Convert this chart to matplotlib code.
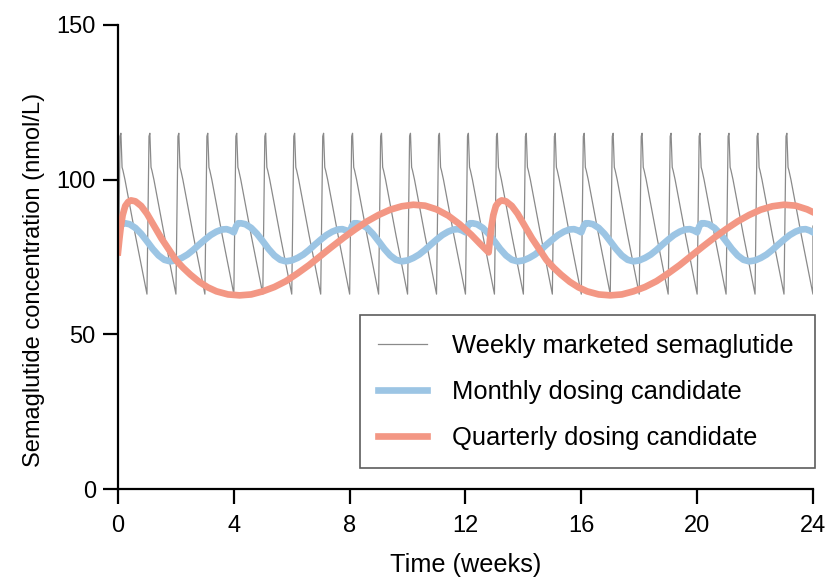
import numpy as np
import matplotlib.pyplot as plt

# weekly marketed semaglutide (one dose each week)
weekly_t = [
    0.00, 0.07, 0.10, 0.14, 0.17, 0.24, 0.60,
    1.00, 1.07, 1.10, 1.14, 1.17, 1.24, 1.60,
    2.00, 2.07, 2.10, 2.14, 2.17, 2.24, 2.60,
    3.00, 3.07, 3.10, 3.14, 3.17, 3.24, 3.60,
    4.00, 4.07, 4.10, 4.14, 4.17, 4.24, 4.60,
    5.00, 5.07, 5.10, 5.14, 5.17, 5.24, 5.60,
    6.00, 6.07, 6.10, 6.14, 6.17, 6.24, 6.60,
    7.00, 7.07, 7.10, 7.14, 7.17, 7.24, 7.60,
    8.00, 8.07, 8.10, 8.14, 8.17, 8.24, 8.60,
    9.00, 9.07, 9.10, 9.14, 9.17, 9.24, 9.60,
    10.00, 10.07, 10.10, 10.14, 10.17, 10.24, 10.60,
    11.00, 11.07, 11.10, 11.14, 11.17, 11.24, 11.60,
    12.00, 12.07, 12.10, 12.14, 12.17, 12.24, 12.60,
    13.00, 13.07, 13.10, 13.14, 13.17, 13.24, 13.60,
    14.00, 14.07, 14.10, 14.14, 14.17, 14.24, 14.60,
    15.00, 15.07, 15.10, 15.14, 15.17, 15.24, 15.60,
    16.00, 16.07, 16.10, 16.14, 16.17, 16.24, 16.60,
    17.00, 17.07, 17.10, 17.14, 17.17, 17.24, 17.60,
    18.00, 18.07, 18.10, 18.14, 18.17, 18.24, 18.60,
    19.00, 19.07, 19.10, 19.14, 19.17, 19.24, 19.60,
    20.00, 20.07, 20.10, 20.14, 20.17, 20.24, 20.60,
    21.00, 21.07, 21.10, 21.14, 21.17, 21.24, 21.60,
    22.00, 22.07, 22.10, 22.14, 22.17, 22.24, 22.60,
    23.00, 23.07, 23.10, 23.14, 23.17, 23.24, 23.60,
    24.00, 24.00,
]
weekly_c = [
    60, 114, 115, 104, 103, 100, 82,
    63, 114, 115, 104, 103, 100, 82,
    63, 114, 115, 104, 103, 100, 82,
    63, 114, 115, 104, 103, 100, 82,
    63, 114, 115, 104, 103, 100, 82,
    63, 114, 115, 104, 103, 100, 82,
    63, 114, 115, 104, 103, 100, 82,
    63, 114, 115, 104, 103, 100, 82,
    63, 114, 115, 104, 103, 100, 82,
    63, 114, 115, 104, 103, 100, 82,
    63, 114, 115, 104, 103, 100, 82,
    63, 114, 115, 104, 103, 100, 82,
    63, 114, 115, 104, 103, 100, 82,
    63, 114, 115, 104, 103, 100, 82,
    63, 114, 115, 104, 103, 100, 82,
    63, 114, 115, 104, 103, 100, 82,
    63, 114, 115, 104, 103, 100, 82,
    63, 114, 115, 104, 103, 100, 82,
    63, 114, 115, 104, 103, 100, 82,
    63, 114, 115, 104, 103, 100, 82,
    63, 114, 115, 104, 103, 100, 82,
    63, 114, 115, 104, 103, 100, 82,
    63, 114, 115, 104, 103, 100, 82,
    63, 114, 115, 104, 103, 100, 82,
    63, 85,
]

# monthly dosing candidate
monthly_t = [
    0.00, 0.08, 0.15, 0.25, 0.40, 0.60, 0.80, 1.00, 1.20, 1.40, 1.60, 1.80,
    2.00, 2.20, 2.40, 2.60, 2.80, 3.00, 3.20, 3.40, 3.60, 3.75, 3.88,
    4.00, 4.08, 4.15, 4.25, 4.40, 4.60, 4.80, 5.00, 5.20, 5.40, 5.60, 5.80,
    6.00, 6.20, 6.40, 6.60, 6.80, 7.00, 7.20, 7.40, 7.60, 7.75, 7.88,
    8.00, 8.08, 8.15, 8.25, 8.40, 8.60, 8.80, 9.00, 9.20, 9.40, 9.60, 9.80,
    10.00, 10.20, 10.40, 10.60, 10.80, 11.00, 11.20, 11.40, 11.60, 11.75, 11.88,
    12.00, 12.08, 12.15, 12.25, 12.40, 12.60, 12.80, 13.00, 13.20, 13.40, 13.60, 13.80,
    14.00, 14.20, 14.40, 14.60, 14.80, 15.00, 15.20, 15.40, 15.60, 15.75, 15.88,
    16.00, 16.08, 16.15, 16.25, 16.40, 16.60, 16.80, 17.00, 17.20, 17.40, 17.60, 17.80,
    18.00, 18.20, 18.40, 18.60, 18.80, 19.00, 19.20, 19.40, 19.60, 19.75, 19.88,
    20.00, 20.08, 20.15, 20.25, 20.40, 20.60, 20.80, 21.00, 21.20, 21.40, 21.60, 21.80,
    22.00, 22.20, 22.40, 22.60, 22.80, 23.00, 23.20, 23.40, 23.60, 23.75, 23.88,
    24.00,
]
monthly_c = [
    82.7, 84.8, 85.8, 85.9, 85.6, 84.4, 82.5, 80.1, 77.6, 75.5, 74.1, 73.6,
    73.9, 74.7, 75.8, 77.3, 79.0, 80.6, 82.1, 83.2, 83.9, 84.0, 83.6,
    83.0, 85.0, 85.9, 85.9, 85.6, 84.4, 82.5, 80.1, 77.6, 75.5, 74.1, 73.6,
    73.9, 74.7, 75.8, 77.3, 79.0, 80.6, 82.1, 83.2, 83.9, 84.0, 83.6,
    83.0, 85.0, 85.9, 85.9, 85.6, 84.4, 82.5, 80.1, 77.6, 75.5, 74.1, 73.6,
    73.9, 74.7, 75.8, 77.3, 79.0, 80.6, 82.1, 83.2, 83.9, 84.0, 83.6,
    83.0, 85.0, 85.9, 85.9, 85.6, 84.4, 82.5, 80.1, 77.6, 75.5, 74.1, 73.6,
    73.9, 74.7, 75.8, 77.3, 79.0, 80.6, 82.1, 83.2, 83.9, 84.0, 83.6,
    83.0, 85.0, 85.9, 85.9, 85.6, 84.4, 82.5, 80.1, 77.6, 75.5, 74.1, 73.6,
    73.9, 74.7, 75.8, 77.3, 79.0, 80.6, 82.1, 83.2, 83.9, 84.0, 83.6,
    83.0, 85.0, 85.9, 85.9, 85.6, 84.4, 82.5, 80.1, 77.6, 75.5, 74.1, 73.6,
    73.9, 74.7, 75.8, 77.3, 79.0, 80.6, 82.1, 83.2, 83.9, 84.0, 83.6,
    83.0,
]

# quarterly dosing candidate
quarterly_t = [
    0.00, 0.05, 0.10, 0.16, 0.25, 0.35, 0.45, 0.60, 0.80, 1.00, 1.25, 1.50, 1.75,
    2.00, 2.25, 2.50, 2.80, 3.10, 3.40, 3.80, 4.20, 4.60, 5.00, 5.40, 5.80, 6.20,
    6.60, 7.00, 7.40, 7.80, 8.20, 8.60, 9.00, 9.40, 9.80, 10.20, 10.60, 11.00,
    11.40, 11.80, 12.20, 12.50, 12.80,
    12.85, 12.90, 12.96, 13.05, 13.15, 13.25, 13.40, 13.60, 13.80, 14.05, 14.30, 14.55,
    14.80, 15.05, 15.30, 15.60, 15.90, 16.20, 16.60, 17.00, 17.40, 17.80, 18.20, 18.60,
    19.00, 19.40, 19.80, 20.20, 20.60, 21.00, 21.40, 21.80, 22.20, 22.60, 23.00, 23.40,
    23.80, 24.00,
]
quarterly_c = [
    76.5, 81.0, 85.0, 88.5, 91.5, 92.8, 93.3, 93.0, 91.5, 89.0, 85.0, 81.0, 77.5,
    74.0, 71.5, 69.3, 67.0, 65.2, 63.9, 62.9, 62.6, 62.9, 63.9, 65.3, 67.2, 69.7,
    72.4, 75.4, 78.4, 81.3, 84.0, 86.5, 88.6, 90.3, 91.4, 91.9, 91.6, 90.4,
    88.4, 85.6, 82.2, 79.3, 76.5,
    81.0, 85.0, 88.5, 91.5, 92.8, 93.3, 93.0, 91.5, 89.0, 85.0, 81.0, 77.5,
    74.0, 71.5, 69.3, 67.0, 65.2, 63.9, 62.9, 62.6, 62.9, 63.9, 65.3, 67.2,
    69.7, 72.4, 75.4, 78.4, 81.3, 84.0, 86.5, 88.6, 90.3, 91.4, 91.9, 91.6,
    90.4, 89.5,
]

labels = ["Weekly marketed semaglutide", "Monthly dosing candidate", "Quarterly dosing candidate"]

plt.rcParams['font.family'] = ['Liberation Sans', 'DejaVu Sans']

fig = plt.figure(figsize=(8.27, 5.81), dpi=100)
ax = fig.add_axes([0.1427, 0.1583, 0.8403, 0.7987])

ax.plot(weekly_t, weekly_c, color='#8a8a8a', lw=0.9, label=labels[0])
ax.plot(monthly_t, monthly_c, color='#9cc5e4', lw=4.8, solid_joinstyle='round', label=labels[1])
ax.plot(quarterly_t, quarterly_c, color='#f39784', lw=4.8, solid_joinstyle='round', label=labels[2])

ax.set_xlim(0, 24)
ax.set_ylim(0, 150)
ax.set_xticks([0, 4, 8, 12, 16, 20, 24])
ax.set_yticks([0, 50, 100, 150])
for s in ['top', 'right']:
    ax.spines[s].set_visible(False)
for s in ['left', 'bottom']:
    ax.spines[s].set_linewidth(1.6)
ax.tick_params(direction='out', length=11, width=1.6, labelsize=17, pad=5)
ax.tick_params(axis='x', pad=8)

ax.set_xlabel("Time (weeks)", fontsize=18.2, labelpad=11)
ax.set_ylabel("Semaglutide concentration (nmol/L)", fontsize=17, labelpad=8, y=0.45)

leg = ax.legend(loc='lower left', bbox_to_anchor=(0.348, 0.045, 0.655, 0.332), mode='expand',
                fontsize=18.4, frameon=True, fancybox=False, edgecolor='#333333',
                handlelength=1.9, handletextpad=1.0, labelspacing=0.86, borderpad=0.72,
                borderaxespad=0)
leg.get_frame().set_linewidth(1.2)

fig.savefig("out.png", dpi=100)
